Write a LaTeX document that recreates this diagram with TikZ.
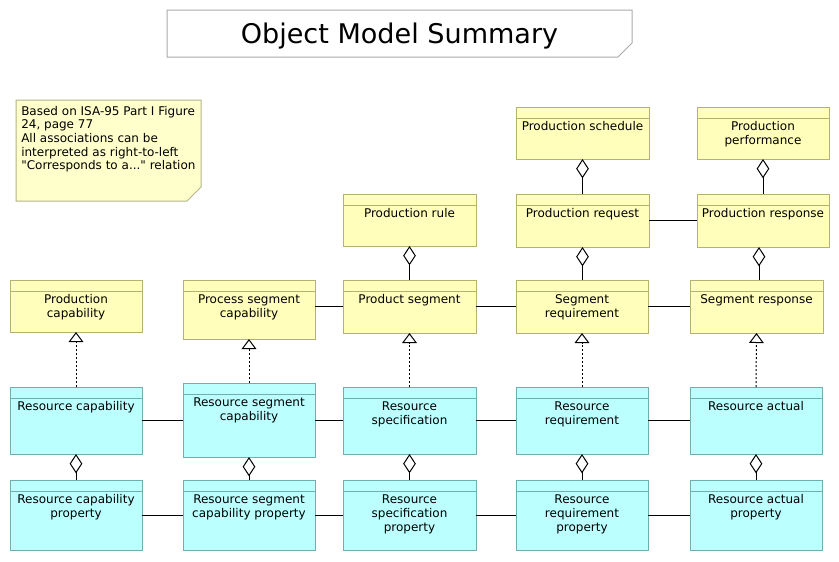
\documentclass[tikz,border=0pt]{standalone}
\usepackage{fontspec}
\setmainfont{DejaVu Sans}[Ligatures=TeXOff]
\usetikzlibrary{arrows.meta}
\definecolor{yfill}{HTML}{FFFFBB}
\definecolor{ybord}{HTML}{B3B36E}
\definecolor{cfill}{HTML}{BBFFFF}
\definecolor{cbord}{HTML}{6EAFAF}
\definecolor{nfill}{HTML}{FFFFCC}
\definecolor{nbord}{HTML}{B3B38C}
\definecolor{tbord}{HTML}{AAAAAA}
\newcommand\umlclass[7]{%
  \node[#2box, minimum width={(#5-#3)*0.75pt}, minimum height={(#6-#4)*0.75pt}] (#1) at ({(#3+#5)/2},{(#4+#6)/2}) {};
  \draw[draw=#2bord, line width=0.75pt] ([yshift=-8.25pt]#1.north west) -- ([yshift=-8.25pt]#1.north east);
  \node[classtext] (#1-t) at ([yshift=-10.5pt]#1.north) {#7};
}
\begin{document}
\begin{tikzpicture}[x=0.75pt,y=-0.75pt,
  ybox/.style={draw=ybord, fill=yfill, line width=0.75pt, inner sep=0pt, outer sep=0pt},
  cbox/.style={draw=cbord, fill=cfill, line width=0.75pt, inner sep=0pt, outer sep=0pt},
  classtext/.style={anchor=north, align=center, inner sep=0pt, font=\fontsize{9pt}{10.5pt}\selectfont},
  assoc/.style={draw=black, line width=0.75pt},
  agg/.style={assoc, {Diamond[open, length=14.5pt, width=9.5pt, line width=0.75pt]}-},
  real/.style={assoc, dash pattern=on 1.5pt off 1.5pt, -{Triangle[open, length=7.5pt, width=11pt, line width=0.75pt]}}
]
\useasboundingbox (0,0) rectangle (839,561);
\fill[white] (0,0) rectangle (839,561);

% title
\path[draw=tbord, fill=white, line width=0.75pt] (167,10) -- (632,10) -- (632,43) -- (618,57) -- (167,57) -- cycle;
\node[anchor=base, inner sep=0pt, font=\fontsize{20.3pt}{24pt}\selectfont] (title) at (399.5,43) {Object Model Summary};

% note
\path[draw=nbord, fill=nfill, line width=0.75pt] (16,100) -- (201,100) -- (201,187) -- (187,201) -- (16,201) -- cycle;
\node[anchor=north west, align=left, inner sep=0pt, font=\fontsize{9pt}{10.2pt}\selectfont] (note) at (21,106)
  {Based on ISA-95 Part I Figure\\24, page 77\\All associations can be\\interpreted as right-to-left\\"Corresponds to a..." relation};

% yellow classes
\umlclass{pcap}{y}{10}{280}{142}{332}{Production\\capability}
\umlclass{pscap}{y}{183}{280}{315}{339}{Process segment\\capability}
\umlclass{pseg}{y}{343}{280}{476}{333}{Product segment}
\umlclass{prule}{y}{343}{194}{476}{246}{Production rule}
\umlclass{sreq}{y}{516}{280}{648}{333}{Segment\\requirement}
\umlclass{sresp}{y}{690}{280}{823}{333}{Segment response}
\umlclass{psched}{y}{516}{107}{649}{159}{Production schedule}
\umlclass{pperf}{y}{697}{107}{829}{159}{Production\\performance}
\umlclass{preq}{y}{516}{194}{649}{247}{Production request}
\umlclass{presp}{y}{697}{194}{829}{247}{Production response}

% cyan classes
\umlclass{rcap}{c}{10}{387}{142}{454}{Resource capability}
\umlclass{rscap}{c}{183}{383}{315}{457}{Resource segment\\capability}
\umlclass{rspec}{c}{343}{387}{476}{454}{Resource\\specification}
\umlclass{rreq}{c}{516}{387}{648}{454}{Resource\\requirement}
\umlclass{ract}{c}{690}{387}{822}{454}{Resource actual}
\umlclass{rcapp}{c}{10}{480}{142}{550}{Resource capability\\property}
\umlclass{rscapp}{c}{183}{480}{315}{550}{Resource segment\\capability property}
\umlclass{rspecp}{c}{343}{480}{476}{550}{Resource\\specification\\property}
\umlclass{rreqp}{c}{516}{480}{648}{550}{Resource\\requirement\\property}
\umlclass{ractp}{c}{690}{480}{822}{550}{Resource actual\\property}

% plain associations
\draw[assoc] (pscap.east |- pseg.west) -- (pseg.west);
\draw[assoc] (pseg.east) -- (sreq.west |- pseg.east);
\draw[assoc] (sreq.east |- pseg.east) -- (sresp.west |- pseg.east);
\draw[assoc] (preq.east) -- (presp.west);
\draw[assoc] (rcap.east) -- (rscap.west |- rcap.east);
\draw[assoc] (rscap.east |- rcap.east) -- (rspec.west);
\draw[assoc] (rspec.east) -- (rreq.west);
\draw[assoc] (rreq.east) -- (ract.west);
\draw[assoc] (rcapp.east) -- (rscapp.west);
\draw[assoc] (rscapp.east) -- (rspecp.west);
\draw[assoc] (rspecp.east) -- (rreqp.west);
\draw[assoc] (rreqp.east) -- (ractp.west);

% realizations
\draw[real] (rcap.north) -- (pcap.south);
\draw[real] (rscap.north) -- (pscap.south);
\draw[real] (rspec.north) -- (pseg.south);
\draw[real] (rreq.north) -- (sreq.south);
\draw[real] (ract.north) -- (sresp.south);

% aggregations
\coordinate (mx) at (759,0);
\draw[agg] (prule.south) -- (pseg.north);
\draw[agg] (psched.south) -- (preq.north);
\draw[agg] (pperf.south) -- (presp.north);
\draw[agg] (preq.south) -- (sreq.north -| preq.south);
\draw[agg] (presp.south -| mx) -- (sresp.north -| mx);
\draw[agg] (rcap.south) -- (rcapp.north);
\draw[agg] (rscap.south) -- (rscapp.north);
\draw[agg] (rspec.south) -- (rspecp.north);
\draw[agg] (rreq.south) -- (rreqp.north);
\draw[agg] (ract.south) -- (ractp.north);
\end{tikzpicture}
\end{document}
